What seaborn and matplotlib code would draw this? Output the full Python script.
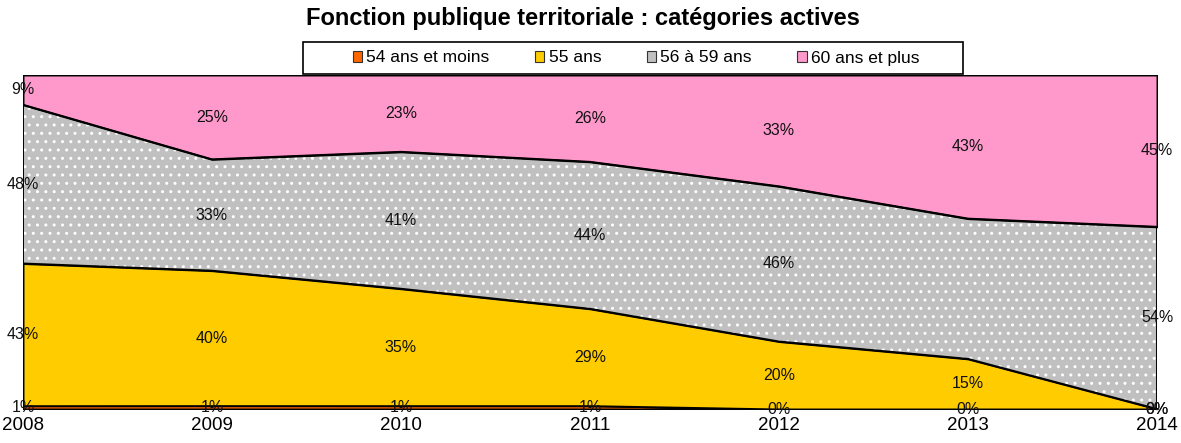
import numpy as np
import pandas as pd
import seaborn as sns
import matplotlib.pyplot as plt
from matplotlib.patches import Patch, Rectangle

years = [2008, 2009, 2010, 2011, 2012, 2013, 2014]
series_names = ["54 ans et moins", "55 ans", "56 à 59 ans", "60 ans et plus"]
moins_54 = [1, 1, 1, 1, 0, 0, 0]
ans_55 = [43, 40, 35, 29, 20, 15, 0]
ans_56_59 = [48, 33, 41, 44, 46, 42, 54]
plus_60 = [9, 25, 23, 26, 33, 43, 45]
# the 2013 label of "56 à 59 ans" is not printed on the original chart
show_56_59 = [True, True, True, True, True, False, True]

colors = ["#FF6600", "#FFCC00", "#C0C0C0", "#FF99CC"]

sns.set_theme(style="white")
plt.rcParams["font.family"] = ["Liberation Sans", "DejaVu Sans"]
plt.rcParams["text.color"] = "black"

df = pd.DataFrame({"year": years, series_names[0]: moins_54, series_names[1]: ans_55,
                   series_names[2]: ans_56_59, series_names[3]: plus_60})
vals = df[series_names].to_numpy(dtype=float)
pct = vals / vals.sum(axis=1, keepdims=True) * 100
cum = np.cumsum(pct, axis=1)
lower = np.hstack([np.zeros((len(years), 1)), cum[:, :-1]])

fig = plt.figure(figsize=(11.81, 4.43), dpi=100)
ax = fig.add_axes([23 / 1181, 1 - 409 / 443, (1157 - 23) / 1181, (409 - 75) / 443])

for i, name in enumerate(series_names):
    if name == "56 à 59 ans":
        ax.fill_between(years, lower[:, i], cum[:, i], facecolor=colors[i],
                        edgecolor="white", hatch="..", linewidth=0, zorder=2)
        ax.fill_between(years, lower[:, i], cum[:, i], facecolor="none",
                        edgecolor="black", linewidth=1.4, zorder=3)
    else:
        ax.fill_between(years, lower[:, i], cum[:, i], facecolor=colors[i],
                        edgecolor="black", linewidth=1.4, zorder=2)

labels = [moins_54, ans_55, ans_56_59, plus_60]
for i in range(len(series_names)):
    for j, yr in enumerate(years):
        if i == 2 and not show_56_59[j]:
            continue
        ymid = (lower[j, i] + cum[j, i]) / 2
        ax.text(yr, ymid, f"{labels[i][j]}%", ha="center", va="center",
                fontsize=11.5, color="#111111", zorder=5, clip_on=False)

ax.set_xlim(years[0], years[-1])
ax.set_ylim(0, 100)
ax.set_xticks(years)
ax.set_xticklabels([str(y) for y in years])
ax.set_yticks([])
ax.tick_params(axis="x", length=0, labelsize=13.5, pad=6, colors="black")
for s in ax.spines.values():
    s.set_visible(False)

fig.text(583 / 1181, 1 - 19 / 443, "Fonction publique territoriale : catégories actives",
         ha="center", va="center", fontsize=17, fontweight="bold")

fig.patches.append(Rectangle((303 / 1181, 1 - 74 / 443), (963 - 303) / 1181, 32 / 443,
                             transform=fig.transFigure, facecolor="white",
                             edgecolor="black", linewidth=1.2, zorder=0))
handles = [Patch(facecolor=c, edgecolor="#333333", linewidth=0.8) for c in colors]
fig.legend(handles, series_names, ncol=4, loc="center",
           bbox_to_anchor=(636 / 1181, 1 - 58 / 443), frameon=False,
           fontsize=12.5, handlelength=0.55, handleheight=0.55,
           handletextpad=0.25, columnspacing=2.6)

fig.savefig("out.png", dpi=100)
